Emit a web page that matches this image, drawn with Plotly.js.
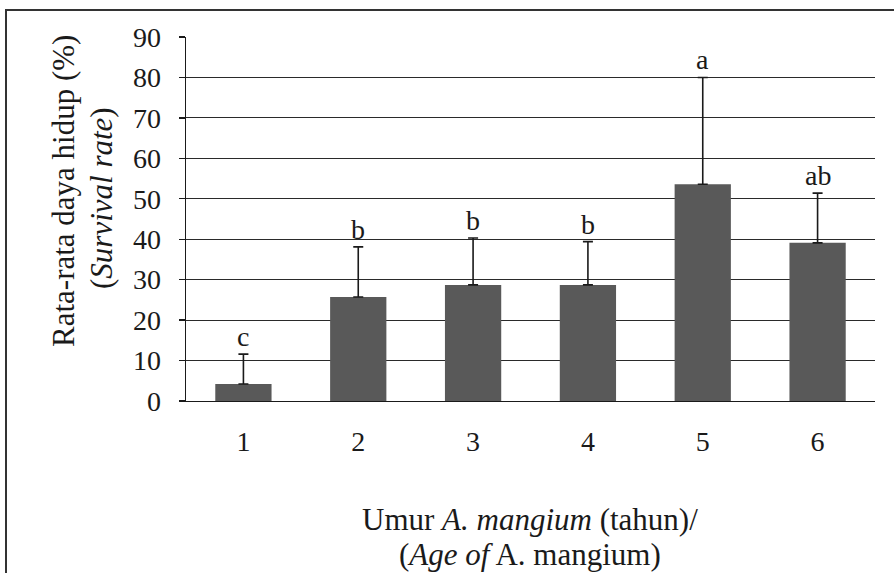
<!DOCTYPE html>
<html>
<head>
<meta charset="utf-8">
<script src="https://cdn.plot.ly/plotly-3.0.1.min.js"></script>
<style>html,body{margin:0;padding:0;background:#fff;}</style>
</head>
<body>
<div id="chart" style="width:894px;height:573px;"></div>
<script>
const categories = ["1", "2", "3", "4", "5", "6"];
const survivalMean = [4.2, 25.7, 28.7, 28.7, 53.6, 39.1];
const errorPlus = [7.4, 12.4, 11.6, 10.7, 26.4, 12.3];
const letters = ["c", "b", "b", "b", "a", "ab"];

const FONT = "'Liberation Serif', 'Times New Roman', 'DejaVu Serif', serif";
const INK = "#1a1a1a";

const trace = {
  type: "bar",
  x: categories,
  y: survivalMean,
  marker: {color: "#595959"},
  width: 0.49,
  error_y: {
    type: "data",
    symmetric: false,
    array: errorPlus,
    arrayminus: survivalMean.map(() => 0),
    color: INK,
    thickness: 1.6,
    width: 5
  },
  hoverinfo: "skip"
};

const annotations = categories.map((c, i) => ({
  x: i, y: survivalMean[i] + errorPlus[i],
  xref: "x", yref: "y",
  text: letters[i],
  showarrow: false,
  yanchor: "bottom",
  yshift: 0,
  font: {family: FONT, size: 28, color: INK}
}));

const plotTop = 37, plotBottom = 401, plotLeft = 186, plotRight = 875;
const px2paperX = p => (p - plotLeft) / (plotRight - plotLeft);
const px2paperY = p => (plotBottom - p) / (plotBottom - plotTop);

annotations.push({
  xref: "paper", yref: "paper",
  x: px2paperX(63), y: px2paperY(191),
  text: "Rata-rata daya hidup (%)",
  textangle: -90, showarrow: false,
  xanchor: "center", yanchor: "middle",
  font: {family: FONT, size: 31, color: INK}
});
annotations.push({
  xref: "paper", yref: "paper",
  x: px2paperX(101), y: px2paperY(198),
  text: "(<i>Survival rate</i>)",
  textangle: -90, showarrow: false,
  xanchor: "center", yanchor: "middle",
  font: {family: FONT, size: 31, color: INK}
});
annotations.push({
  xref: "paper", yref: "paper",
  x: px2paperX(530), y: px2paperY(519),
  text: "Umur <i>A. mangium</i> (tahun)/",
  showarrow: false,
  xanchor: "center", yanchor: "middle",
  font: {family: FONT, size: 31, color: INK}
});
annotations.push({
  xref: "paper", yref: "paper",
  x: px2paperX(530), y: px2paperY(554),
  text: "(<i>Age of</i> A. mangium)",
  showarrow: false,
  xanchor: "center", yanchor: "middle",
  font: {family: FONT, size: 31, color: INK}
});

const layout = {
  width: 894, height: 573,
  margin: {l: plotLeft, r: 894 - plotRight, t: plotTop, b: 573 - plotBottom},
  paper_bgcolor: "#ffffff",
  plot_bgcolor: "#ffffff",
  showlegend: false,
  font: {family: FONT, size: 28, color: INK},
  xaxis: {
    type: "category",
    showgrid: false,
    showline: true, linecolor: INK, linewidth: 1.3,
    ticks: "",
    ticklabelstandoff: 15,
    tickfont: {family: FONT, size: 28, color: INK},
    zeroline: false
  },
  yaxis: {
    range: [0, 90],
    tick0: 0, dtick: 10,
    showgrid: true, gridcolor: "#2a2a2a", gridwidth: 1,
    showline: true, linecolor: INK, linewidth: 1.3,
    ticks: "outside", ticklen: 6, tickcolor: INK, tickwidth: 1.3,
    ticklabelstandoff: 12,
    tickfont: {family: FONT, size: 28, color: INK},
    zeroline: false
  },
  annotations: annotations,
  shapes: [{
    type: "rect", xref: "paper", yref: "paper",
    x0: px2paperX(6), x1: px2paperX(1000), y0: px2paperY(700), y1: px2paperY(10),
    line: {color: "#333333", width: 2},
    fillcolor: "rgba(0,0,0,0)",
    layer: "below"
  }]
};

Plotly.newPlot("chart", [trace], layout, {displayModeBar: false, staticPlot: true});
</script>
</body>
</html>
